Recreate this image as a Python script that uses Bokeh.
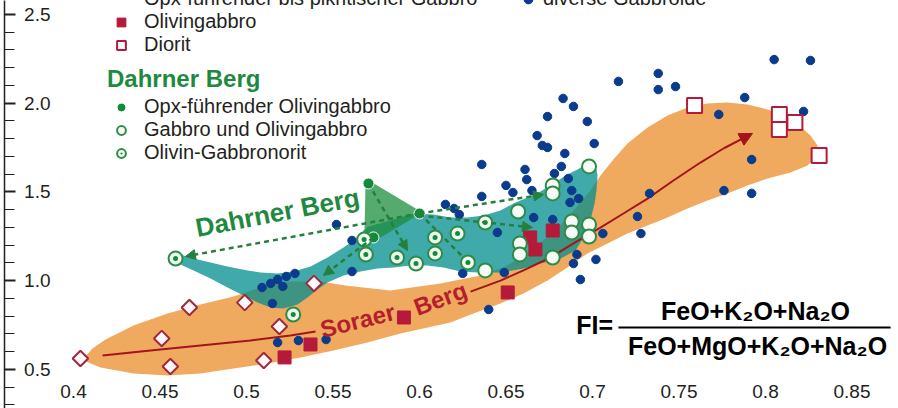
from bokeh.plotting import figure
from bokeh.models import (Range1d, FixedTicker, Legend, LegendItem, Label,
                          Arrow, NormalHead, ColumnDataSource)
from bokeh.embed import file_html
from bokeh.resources import INLINE

# ---------------- axes ----------------
x_ticks = [0.4, 0.45, 0.5, 0.55, 0.6, 0.65, 0.7, 0.75, 0.8, 0.85]
x_tick_labels = ["0.4", "0.45", "0.5", "0.55", "0.6", "0.65", "0.7", "0.75", "0.8", "0.85"]
y_ticks = [0.5, 1.0, 1.5, 2.0, 2.5]
y_tick_labels = ["0.5", "1.0", "1.5", "2.0", "2.5"]
y_minor_ticks = [0.3, 0.4, 0.6, 0.7, 0.8, 0.9, 1.1, 1.2, 1.3, 1.4, 1.6, 1.7, 1.8, 1.9,
                 2.1, 2.2, 2.3, 2.4]

# ---------------- Soraer Berg ----------------
sor_opx_x = [0.404, 0.451, 0.456, 0.467, 0.499, 0.510, 0.519, 0.539]
sor_opx_y = [0.562, 0.675, 0.517, 0.849, 0.877, 0.551, 0.742, 0.985]
sor_olg_x = [0.522, 0.537, 0.591, 0.651, 0.664, 0.667, 0.677]
sor_olg_y = [0.568, 0.641, 0.793, 0.934, 1.244, 1.176, 1.283]
sor_dio_x = [0.759, 0.808, 0.808, 0.817, 0.831]
sor_dio_y = [1.987, 1.937, 1.852, 1.892, 1.706]

# diverse Gabbroide
div_x = [0.805, 0.826, 0.738, 0.715, 0.738, 0.748, 0.788, 0.773, 0.822, 0.683,
         0.689, 0.674, 0.697, 0.668, 0.671, 0.674, 0.701, 0.684, 0.636, 0.661,
         0.682, 0.678, 0.662, 0.686, 0.650, 0.654, 0.636, 0.665, 0.688, 0.792,
         0.733, 0.776, 0.792, 0.692, 0.687, 0.615, 0.620, 0.623, 0.666, 0.677,
         0.645, 0.726, 0.728, 0.625, 0.649, 0.691, 0.689, 0.702, 0.693, 0.706,
         0.640, 0.552, 0.561, 0.561, 0.528, 0.523, 0.518, 0.521, 0.514, 0.509,
         0.515, 0.518, 0.530, 0.546]
div_y = [2.246, 2.241, 2.168, 2.123, 2.077, 2.094, 2.032, 1.937, 1.954, 2.027,
         1.982, 1.925, 1.897, 1.818, 1.762, 1.751, 1.773, 1.717, 1.655, 1.627,
         1.644, 1.604, 1.570, 1.576, 1.537, 1.497, 1.475, 1.508, 1.508, 1.683,
         1.492, 1.508, 1.492, 1.463, 1.441, 1.430, 1.407, 1.373, 1.356, 1.345,
         1.272, 1.362, 1.266, 1.041, 1.046, 1.148, 1.097, 1.120, 1.007, 1.266,
         0.838, 1.317, 1.227, 1.052, 1.041, 1.024, 1.007, 0.968, 0.985, 0.962,
         0.872, 0.652, 0.663, 0.669]

# ---------------- Dahrner Berg ----------------
dah_opx_x = [0.5705, 0.600, 0.5734]
dah_opx_y = [1.548, 1.379, 1.244]
dah_gab_x = [0.698, 0.677, 0.677, 0.657, 0.688, 0.688, 0.698, 0.698, 0.658, 0.658, 0.677, 0.638]
dah_gab_y = [1.644, 1.537, 1.492, 1.390, 1.334, 1.272, 1.317, 1.249, 1.210, 1.148, 1.131, 1.058]
dah_nor_x = [0.459, 0.527, 0.568, 0.569, 0.587, 0.598, 0.609, 0.609, 0.622, 0.638, 0.628]
dah_nor_y = [1.125, 0.810, 1.232, 1.148, 1.131, 1.097, 1.244, 1.154, 1.266, 1.328, 1.103]

# ---------------- fields ----------------
sor_field_x = [0.4058, 0.4110, 0.4185, 0.4347, 0.4543, 0.4734, 0.4925, 0.5081, 0.5254, 0.5428,
               0.5572, 0.5832, 0.6121, 0.6353, 0.6497, 0.6642, 0.6786, 0.6902, 0.6988, 0.7046,
               0.7116, 0.7202, 0.7318, 0.7434, 0.7549, 0.7665, 0.7780, 0.7896, 0.8012, 0.8127,
               0.8202, 0.8260, 0.8301, 0.8289, 0.8243, 0.8145, 0.8012, 0.7896, 0.7780, 0.7665,
               0.7549, 0.7434, 0.7318, 0.7202, 0.7087, 0.6971, 0.6855, 0.6740, 0.6601, 0.6468,
               0.6312, 0.6179, 0.5890, 0.5699, 0.5503, 0.5312, 0.5121, 0.4925, 0.4734, 0.4543,
               0.4347, 0.4156, 0.4058]
sor_field_y = [0.562, 0.618, 0.669, 0.748, 0.816, 0.866, 0.911, 0.962, 0.996, 0.996,
               0.973, 0.945, 0.985, 1.030, 1.080, 1.170, 1.283, 1.407, 1.508, 1.593,
               1.677, 1.773, 1.863, 1.931, 1.976, 1.999, 2.004, 1.993, 1.965, 1.920,
               1.869, 1.818, 1.762, 1.694, 1.649, 1.610, 1.576, 1.537, 1.492, 1.452,
               1.407, 1.356, 1.311, 1.266, 1.210, 1.154, 1.075, 1.001, 0.928, 0.872,
               0.816, 0.765, 0.703, 0.652, 0.607, 0.568, 0.534, 0.506, 0.477, 0.466,
               0.477, 0.511, 0.551]
dah_field_x = [0.4561, 0.4618, 0.4694, 0.4792, 0.4890, 0.5006, 0.5081, 0.5179, 0.5272, 0.5370,
               0.5468, 0.5561, 0.5642, 0.5676, 0.5705, 0.5832, 0.5965, 0.6081, 0.6179, 0.6277,
               0.6370, 0.6468, 0.6543, 0.6624, 0.6699, 0.6775, 0.6844, 0.6913, 0.6971, 0.7017,
               0.7029, 0.7023, 0.7012, 0.6988, 0.6948, 0.6902, 0.6815, 0.6699, 0.6601, 0.6468,
               0.6335, 0.6237, 0.6139, 0.6046, 0.5948, 0.5850, 0.5757, 0.5659, 0.5561, 0.5468,
               0.5410, 0.5353, 0.5295, 0.5214, 0.5139, 0.5064, 0.4983, 0.4890, 0.4792, 0.4694,
               0.4618, 0.4572]
dah_field_y = [1.131, 1.148, 1.125, 1.103, 1.080, 1.058, 1.046, 1.041, 1.052, 1.080,
               1.131, 1.187, 1.244, 1.283, 1.306, 1.339, 1.379, 1.373, 1.356, 1.356,
               1.368, 1.396, 1.435, 1.469, 1.503, 1.548, 1.593, 1.627, 1.661, 1.661,
               1.593, 1.508, 1.435, 1.339, 1.244, 1.170, 1.125, 1.097, 1.069, 1.046,
               1.046, 1.052, 1.075, 1.086, 1.086, 1.075, 1.069, 1.052, 1.030, 0.990,
               0.951, 0.906, 0.866, 0.844, 0.849, 0.877, 0.917, 0.962, 1.013, 1.058,
               1.092, 1.108]
opx_field_x = [0.5688, 0.5717, 0.6017, 0.5746, 0.5682]
opx_field_y = [1.548, 1.559, 1.385, 1.227, 1.272]

# ---------------- trends ----------------
sor_trend1_x = [0.4168, 0.4445, 0.4734, 0.5023, 0.5254, 0.5399]
sor_trend1_y = [0.579, 0.607, 0.635, 0.663, 0.692, 0.714]
sor_trend2_x = [0.6295, 0.6468, 0.6601, 0.6757, 0.6890, 0.7029, 0.7179, 0.7318, 0.7468,
                0.7624, 0.7757, 0.7925]
sor_trend2_y = [0.939, 1.001, 1.058, 1.131, 1.210, 1.289, 1.379, 1.463, 1.565,
                1.666, 1.745, 1.830]
dah_arrow_x0 = [0.600, 0.600, 0.600, 0.5705, 0.5734]
dah_arrow_y0 = [1.379, 1.379, 1.368, 1.548, 1.244]
dah_arrow_x1 = [0.4647, 0.6717, 0.6653, 0.5931, 0.5445]
dah_arrow_y1 = [1.137, 1.486, 1.300, 1.170, 1.030]
dah_line_x = [0.600, 0.6272]
dah_line_y = [1.379, 1.114]

FONT = "Liberation Sans"
INK = "#231f20"
ORANGE = "#F0AA5F"
TEAL = "#008C8C"
GREEN_FIELD = "#1C8E3E"
BLUE = "#0B3B8C"
RED_LINE = "#A3141E"
RED_TEXT = "#B41E2D"
CRIMSON = "#B51A3A"
DIAMOND_LINE = "#9E2A40"
GREEN = "#128A3C"
GREEN_LINE = "#2D8C45"
GREEN_DASH = "#24803C"
GREEN_TEXT = "#1F8A3F"

p = figure(width=898, height=408, x_range=Range1d(0.36012, 0.87688),
           y_range=Range1d(0.28028, 2.57887), output_backend="svg",
           toolbar_location=None, min_border=0, min_border_left=4,
           outline_line_color=None,
           background_fill_color="white", border_fill_color="white")
p.grid.visible = False

# y axis (labels inside the frame)
ya = p.yaxis[0]
ya.ticker = FixedTicker(ticks=y_ticks, minor_ticks=y_minor_ticks)
ya.major_label_overrides = {t: l for t, l in zip(y_ticks, y_tick_labels)}
ya.major_tick_in = 11
ya.major_tick_out = 0
ya.minor_tick_in = 10
ya.minor_tick_out = 0
ya.major_label_standoff = -46
ya.axis_line_color = INK
ya.axis_line_width = 1.5
ya.major_tick_line_color = INK
ya.major_tick_line_width = 2
ya.minor_tick_line_color = INK
ya.minor_tick_line_width = 1.2
ya.major_label_text_font = FONT
ya.major_label_text_font_size = "19px"
ya.major_label_text_color = INK

xa = p.xaxis[0]
xa.ticker = FixedTicker(ticks=x_ticks)
xa.major_label_overrides = {t: l for t, l in zip(x_ticks, x_tick_labels)}
xa.axis_line_color = None
xa.major_tick_line_color = None
xa.minor_tick_line_color = None
xa.major_tick_in = 0
xa.major_tick_out = 0
xa.major_label_standoff = -24
xa.major_label_text_font = FONT
xa.major_label_text_font_size = "19px"
xa.major_label_text_color = INK

# fields
p.patch(sor_field_x, sor_field_y, fill_color=ORANGE, line_color=None)
p.patch(dah_field_x, dah_field_y, fill_color=TEAL, fill_alpha=0.75, line_color=None)
p.patch(opx_field_x, opx_field_y, fill_color=GREEN_FIELD, fill_alpha=0.75, line_color=None)

# Soraer trend
p.line(sor_trend1_x, sor_trend1_y, line_color=RED_LINE, line_width=2)
p.line(sor_trend2_x[:-1], sor_trend2_y[:-1], line_color=RED_LINE, line_width=2)
p.add_layout(Arrow(end=NormalHead(size=13, fill_color=RED_LINE, line_color=RED_LINE),
                   x_start=sor_trend2_x[-2], y_start=sor_trend2_y[-2],
                   x_end=sor_trend2_x[-1], y_end=sor_trend2_y[-1],
                   line_color=RED_LINE, line_width=2))

# Dahrner trends (dashed arrows)
arr_src = ColumnDataSource(dict(x0=dah_arrow_x0, y0=dah_arrow_y0, x1=dah_arrow_x1, y1=dah_arrow_y1))
p.add_layout(Arrow(source=arr_src, x_start="x0", y_start="y0", x_end="x1", y_end="y1",
                   end=NormalHead(size=10, fill_color=GREEN_DASH, line_color=GREEN_DASH),
                   line_color=GREEN_DASH, line_width=2.5, line_dash="5 4"))
p.line(dah_line_x, dah_line_y, line_color=GREEN_DASH, line_width=2.5, line_dash="5 4")

# points
r_div = p.scatter(div_x, div_y, marker="circle", size=8.5, fill_color=BLUE, line_color=BLUE)
p.scatter(sor_opx_x, sor_opx_y, marker="square", angle=0.785398, size=11,
          fill_color="#FFF8F8", line_color=DIAMOND_LINE, line_width=2)
# legend proxy for the diamonds (legend glyphs ignore the marker angle)
r_opx = p.scatter(x=[], y=[], marker="diamond", size=15,
                  fill_color="#FFF8F8", line_color=DIAMOND_LINE, line_width=2)
r_olg = p.scatter(sor_olg_x, sor_olg_y, marker="square", size=13,
                  fill_color=CRIMSON, line_color=CRIMSON)
r_dio = p.scatter(sor_dio_x, sor_dio_y, marker="square", size=15,
                  fill_color="white", line_color=CRIMSON, line_width=2)
r_dopx = p.scatter(dah_opx_x, dah_opx_y, marker="circle", size=11,
                   fill_color=GREEN, line_color="white", line_width=1)
r_gab = p.scatter(dah_gab_x, dah_gab_y, marker="circle", size=14,
                  fill_color="#F6FBF5", line_color=GREEN_LINE, line_width=2)
r_nor = p.scatter(dah_nor_x, dah_nor_y, marker="circle_dot", size=14,
                  fill_color="#EEF8EE", line_color=GREEN_LINE, line_width=2)
p.scatter(dah_nor_x, dah_nor_y, marker="circle", size=5, fill_color=GREEN, line_color=None)

# legends
def make_legend(items, loc, title=None, standoff=9):
    lg = Legend(items=items, location=loc, padding=0, margin=0, spacing=0,
                glyph_width=28, glyph_height=22, label_standoff=standoff,
                border_line_color=None, background_fill_alpha=0,
                label_text_font=FONT, label_text_font_size="20px",
                label_text_color=INK, label_height=22)
    if title:
        lg.title = title
        lg.title_text_font = FONT
        lg.title_text_font_size = "24px"
        lg.title_text_font_style = "bold"
        lg.title_text_color = GREEN_TEXT
        lg.title_standoff = 2
    return lg

p.add_layout(make_legend([
    LegendItem(label="Opx-führender bis pikritischer Gabbro", renderers=[r_opx]),
    LegendItem(label="Olivingabbro", renderers=[r_olg]),
    LegendItem(label="Diorit", renderers=[r_dio]),
], (103, 352)))
p.add_layout(make_legend([
    LegendItem(label="diverse Gabbroide", renderers=[r_div]),
], (510, 398), standoff=1))
p.add_layout(make_legend([
    LegendItem(label="Opx-führender Olivingabbro", renderers=[r_dopx]),
    LegendItem(label="Gabbro und Olivingabbro", renderers=[r_gab]),
    LegendItem(label="Olivin-Gabbronorit", renderers=[r_nor]),
], (103, 244), title="Dahrner Berg"))

# in-plot labels
p.add_layout(Label(x=0.5179, y=1.3845, text="Dahrner Berg", angle=0.19,
                   text_align="center", text_baseline="middle", text_font=FONT,
                   text_font_size="26px", text_font_style="bold", text_color=GREEN_TEXT))
p.add_layout(Label(x=0.5642, y=0.776, text="Soraer", angle=0.245,
                   text_align="center", text_baseline="middle", text_font=FONT,
                   text_font_size="24px", text_font_style="bold", text_color=RED_TEXT))
p.add_layout(Label(x=0.6121, y=0.900, text="Berg", angle=0.36,
                   text_align="center", text_baseline="middle", text_font=FONT,
                   text_font_size="24px", text_font_style="bold", text_color=RED_TEXT))

# formula
p.add_layout(Label(x=0.7012, y=0.7535, text="FI=", text_align="center", text_baseline="middle",
                   text_font=FONT, text_font_size="25px", text_font_style="bold", text_color="black"))
p.add_layout(Label(x=0.7942, y=0.8268, text="FeO+K₂O+Na₂O", text_align="center",
                   text_baseline="middle", text_font=FONT, text_font_size="25px",
                   text_font_style="bold", text_color="black"))
p.add_layout(Label(x=0.7954, y=0.6296, text="FeO+MgO+K₂O+Na₂O", text_align="center",
                   text_baseline="middle", text_font=FONT, text_font_size="25px",
                   text_font_style="bold", text_color="black"))
p.segment(x0=[0.715], y0=[0.7366], x1=[0.8723], y1=[0.7366], line_color="black", line_width=2)

open("out.html", "w").write(file_html(p, INLINE))
